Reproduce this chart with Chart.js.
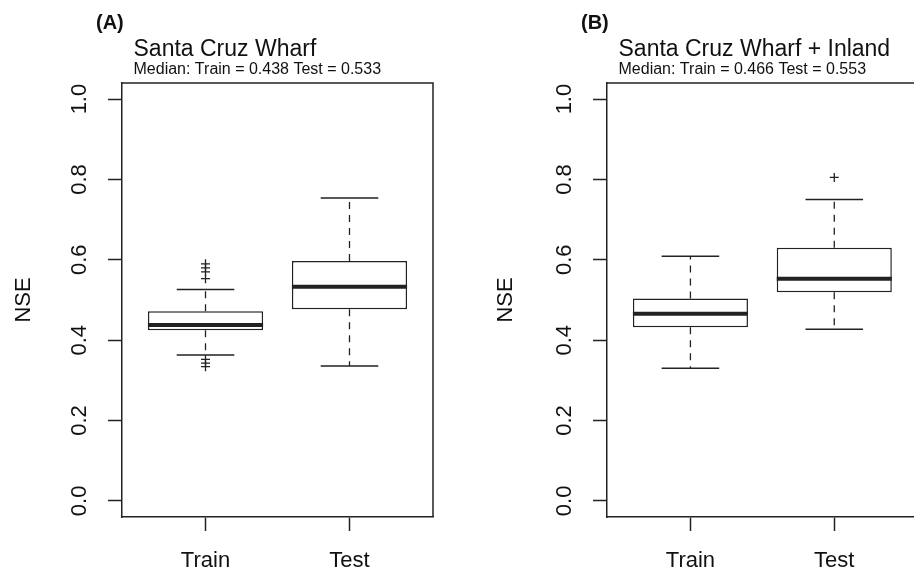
<!DOCTYPE html>
<html>
<head>
<meta charset="utf-8">
<script src="https://cdn.jsdelivr.net/npm/chart.js@4.4.1/dist/chart.umd.min.js"></script>
<style>
  html, body { margin: 0; padding: 0; background: #fff; overflow: hidden; }
  #panelA { position: absolute; left: 0; top: 0; width: 457px; height: 572px; }
  #panelB { position: absolute; left: 457px; top: 0; width: 470px; height: 572px; }
</style>
</head>
<body>
<div id="panelA"><canvas id="chartA"></canvas></div>
<div id="panelB"><canvas id="chartB"></canvas></div>
<script>
// shared
const categories = ['Train', 'Test'];
const yTicks = [0, 0.2, 0.4, 0.6, 0.8, 1.0];

// (A) Santa Cruz Wharf
const lowA = [0.363, 0.336];
const q1A = [0.425, 0.477];
const medA = [0.438, 0.533];
const q3A = [0.472, 0.597];
const highA = [0.526, 0.754];
const outTrainA = [0.590, 0.580, 0.570, 0.553, 0.352, 0.343, 0.334];
const outTestA = [];

// (B) Santa Cruz Wharf + Inland
const lowB = [0.330, 0.427];
const q1B = [0.432, 0.519];
const medB = [0.466, 0.553];
const q3B = [0.504, 0.630];
const highB = [0.609, 0.750];
const outTrainB = [];
const outTestB = [0.805];

const INK = '#222';
const FONT = 'Liberation Sans, Arial, Helvetica, sans-serif';

// whiskers, caps, medians and the frame, drawn through the chart scales
const boxPlugin = {
  id: 'boxExtras',
  afterDatasetsDraw(chart, args, opts) {
    const {ctx, chartArea: a} = chart;
    const xs = chart.scales.x, ys = chart.scales.y;
    ctx.save();
    ctx.strokeStyle = INK;
    opts.med.forEach((m, i) => {
      const x = xs.getPixelForValue(i + 1);
      // dashed whiskers
      ctx.lineWidth = 1.3;
      ctx.setLineDash([7, 6]);
      ctx.beginPath();
      ctx.moveTo(x, ys.getPixelForValue(opts.q3[i]));
      ctx.lineTo(x, ys.getPixelForValue(opts.high[i]));
      ctx.moveTo(x, ys.getPixelForValue(opts.q1[i]));
      ctx.lineTo(x, ys.getPixelForValue(opts.low[i]));
      ctx.stroke();
      // caps
      ctx.setLineDash([]);
      ctx.lineWidth = 1.5;
      ctx.beginPath();
      [opts.high[i], opts.low[i]].forEach(v => {
        const y = ys.getPixelForValue(v);
        ctx.moveTo(xs.getPixelForValue(i + 0.8), y);
        ctx.lineTo(xs.getPixelForValue(i + 1.2), y);
      });
      ctx.stroke();
      // median
      ctx.lineWidth = 4;
      ctx.beginPath();
      const ym = ys.getPixelForValue(m);
      ctx.moveTo(xs.getPixelForValue(i + 0.6), ym);
      ctx.lineTo(xs.getPixelForValue(i + 1.4), ym);
      ctx.stroke();
    });
    // top and right of the frame
    ctx.lineWidth = 1.5;
    ctx.beginPath();
    ctx.moveTo(a.left, a.top);
    ctx.lineTo(a.right, a.top);
    ctx.lineTo(a.right, a.bottom);
    ctx.stroke();
    ctx.restore();
  },
  afterDraw(chart, args, opts) {
    const {ctx, chartArea: a} = chart;
    ctx.save();
    ctx.fillStyle = '#111';
    ctx.textBaseline = 'alphabetic';
    ctx.textAlign = 'left';
    ctx.font = 'bold 20px ' + FONT;
    ctx.fillText(opts.tag, a.left - 26, 29);
    ctx.font = '23px ' + FONT;
    ctx.fillText(opts.title, a.left + 11.5, 56);
    ctx.font = '16px ' + FONT;
    const sub = 'Median: ' + categories.map((c, i) => c + ' = ' + opts.med[i].toFixed(3)).join(' ');
    ctx.fillText(sub, a.left + 11.5, 74);
    ctx.restore();
  }
};

function makeChart(id, tag, title, low, q1, med, q3, high, outTrain, outTest, left, right, nsePad) {
  const outliers = outTrain.map(v => ({x: 1, y: v})).concat(outTest.map(v => ({x: 2, y: v})));
  return new Chart(document.getElementById(id).getContext('2d'), {
    type: 'bar',
    data: {
      datasets: [{
        label: 'box',
        data: categories.map((c, i) => ({x: i + 1, y: [q1[i], q3[i]]})),
        backgroundColor: '#fff',
        borderColor: INK,
        borderWidth: 1.5,
        borderSkipped: false,
        barPercentage: 1,
        categoryPercentage: 0.8
      }, {
        type: 'scatter',
        label: 'outliers',
        data: outliers,
        pointStyle: 'cross',
        pointRadius: 4.5,
        borderColor: INK,
        borderWidth: 1.3
      }]
    },
    options: {
      responsive: true,
      maintainAspectRatio: false,
      animation: false,
      layout: { padding: { top: 83, right: right, bottom: 0, left: 0 } },
      plugins: {
        legend: { display: false },
        tooltip: { enabled: false },
        boxExtras: { tag, title, low, q1, med, q3, high }
      },
      scales: {
        x: {
          type: 'linear',
          min: 0.42,
          max: 2.58,
          offset: false,
          afterBuildTicks: s => { s.ticks = categories.map((c, i) => ({value: i + 1})); },
          afterFit: s => { s.height = 55; },
          grid: { offset: false, drawOnChartArea: false, color: INK, tickLength: 14, tickWidth: 1.5 },
          border: { display: true, color: INK, width: 1.5 },
          ticks: {
            autoSkip: false, maxRotation: 0, padding: 17, color: '#111',
            font: { family: FONT, size: 22 },
            callback: v => categories[v - 1]
          }
        },
        y: {
          min: -0.04,
          max: 1.04,
          afterBuildTicks: s => { s.ticks = yTicks.map(v => ({value: v})); },
          afterFit: s => { s.width = left; },
          grid: { drawOnChartArea: false, color: INK, tickLength: 14, tickWidth: 1.5 },
          border: { display: true, color: INK, width: 1.5 },
          ticks: {
            minRotation: 90, maxRotation: 90, crossAlign: 'center', padding: 13,
            autoSkip: false, color: '#111',
            font: { family: FONT, size: 22 },
            callback: v => v.toFixed(1)
          },
          title: {
            display: true, text: 'NSE', color: '#111',
            font: { family: FONT, size: 22 },
            padding: { top: nsePad, bottom: 0 }
          }
        }
      }
    },
    plugins: [boxPlugin]
  });
}

makeChart('chartA', '(A)', 'Santa Cruz Wharf', lowA, q1A, medA, q3A, highA, outTrainA, outTestA, 122, 24, 10.8);
makeChart('chartB', '(B)', 'Santa Cruz Wharf + Inland', lowB, q1B, medB, q3B, highB, outTrainB, outTestB, 150, 9.3, 35.8);
</script>
</body>
</html>
